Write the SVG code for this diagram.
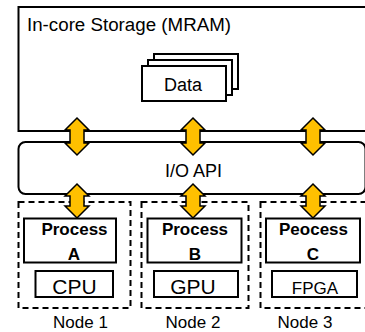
<svg xmlns="http://www.w3.org/2000/svg" width="365" height="332" viewBox="0 0 365 332">
  <style>
    text { font-family: "Liberation Sans", Arial, sans-serif; fill: #000; }
    .box { fill: #fff; stroke: #000; stroke-width: 2; }
    .node { fill: none; stroke: #000; stroke-width: 2; stroke-dasharray: 6 4; }
    .arrow { fill: #FFC000; stroke: #000; stroke-width: 1.5; stroke-linejoin: miter; }
    .lbl { font-size: 18px; }
    .proc { font-size: 17px; font-weight: bold; text-anchor: middle; }
    .hw { font-size: 21px; text-anchor: middle; }
    .nodelbl { font-size: 17px; text-anchor: middle; }
  </style>

  <!-- In-core storage -->
  <g id="storage">
    <rect class="box" x="18.5" y="7" width="360" height="124"/>
    <text class="lbl" x="27" y="31" textLength="204" lengthAdjust="spacingAndGlyphs">In-core Storage (MRAM)</text>
  </g>

  <g id="data">
    <rect class="box" x="154" y="54" width="84" height="35"/>
    <rect class="box" x="148" y="60" width="84" height="35"/>
    <rect class="box" x="142" y="66" width="84" height="35"/>
    <text class="lbl" x="183" y="91" text-anchor="middle">Data</text>
  </g>

  <!-- I/O layer -->
  <g id="io-api">
    <rect class="box" x="18.5" y="142" width="347" height="52" rx="7" ry="7"/>
    <text class="lbl" x="193.5" y="177" text-anchor="middle">I/O API</text>
  </g>

  <!-- Compute nodes -->
  <g id="node1">
    <rect class="node" x="18.5" y="202" width="112" height="106"/>
    <rect class="box" x="24" y="218.5" width="92" height="44"/>
    <text class="proc" x="74.5" y="235">Process</text>
    <text class="proc" x="74" y="260">A</text>
    <rect class="box" x="35.5" y="271" width="77.5" height="26"/>
    <text class="hw" x="74.5" y="294">CPU</text>
    <text class="nodelbl" x="80.5" y="328">Node 1</text>
  </g>

  <g id="node2">
    <rect class="node" x="141.5" y="202" width="107" height="106"/>
    <rect class="box" x="147.5" y="218.5" width="94" height="44"/>
    <text class="proc" x="195" y="235">Process</text>
    <text class="proc" x="195" y="260">B</text>
    <rect class="box" x="154" y="271" width="84" height="26"/>
    <text class="hw" x="193" y="294">GPU</text>
    <text class="nodelbl" x="193" y="328">Node 2</text>
  </g>

  <g id="node3">
    <rect class="node" x="260.5" y="202" width="112" height="106"/>
    <rect class="box" x="266" y="218.5" width="94" height="44"/>
    <text class="proc" x="313.5" y="235">Peocess</text>
    <text class="proc" x="313" y="260">C</text>
    <rect class="box" x="272" y="271" width="85" height="26"/>
    <text class="hw" x="315" y="294" style="font-size:17px">FPGA</text>
    <text class="nodelbl" x="305" y="328">Node 3</text>
  </g>

  <!-- Double-headed block arrows -->
  <g id="connectors">
    <path class="arrow" d="M77 118 L89 130 L84 130 L84 143 L89 143 L77 155 L65 143 L70 143 L70 130 L65 130 Z"/>
    <path class="arrow" d="M193 118 L205 130 L200 130 L200 143 L205 143 L193 155 L181 143 L186 143 L186 130 L181 130 Z"/>
    <path class="arrow" d="M313 118 L325 130 L320 130 L320 143 L325 143 L313 155 L301 143 L306 143 L306 130 L301 130 Z"/>
    <path class="arrow" d="M77 184 L89 196 L84 196 L84 206 L89 206 L77 218 L65 206 L70 206 L70 196 L65 196 Z"/>
    <path class="arrow" d="M193 184 L205 196 L200 196 L200 206 L205 206 L193 218 L181 206 L186 206 L186 196 L181 196 Z"/>
    <path class="arrow" d="M313 184 L325 196 L320 196 L320 206 L325 206 L313 218 L301 206 L306 206 L306 196 L301 196 Z"/>
  </g>
</svg>
